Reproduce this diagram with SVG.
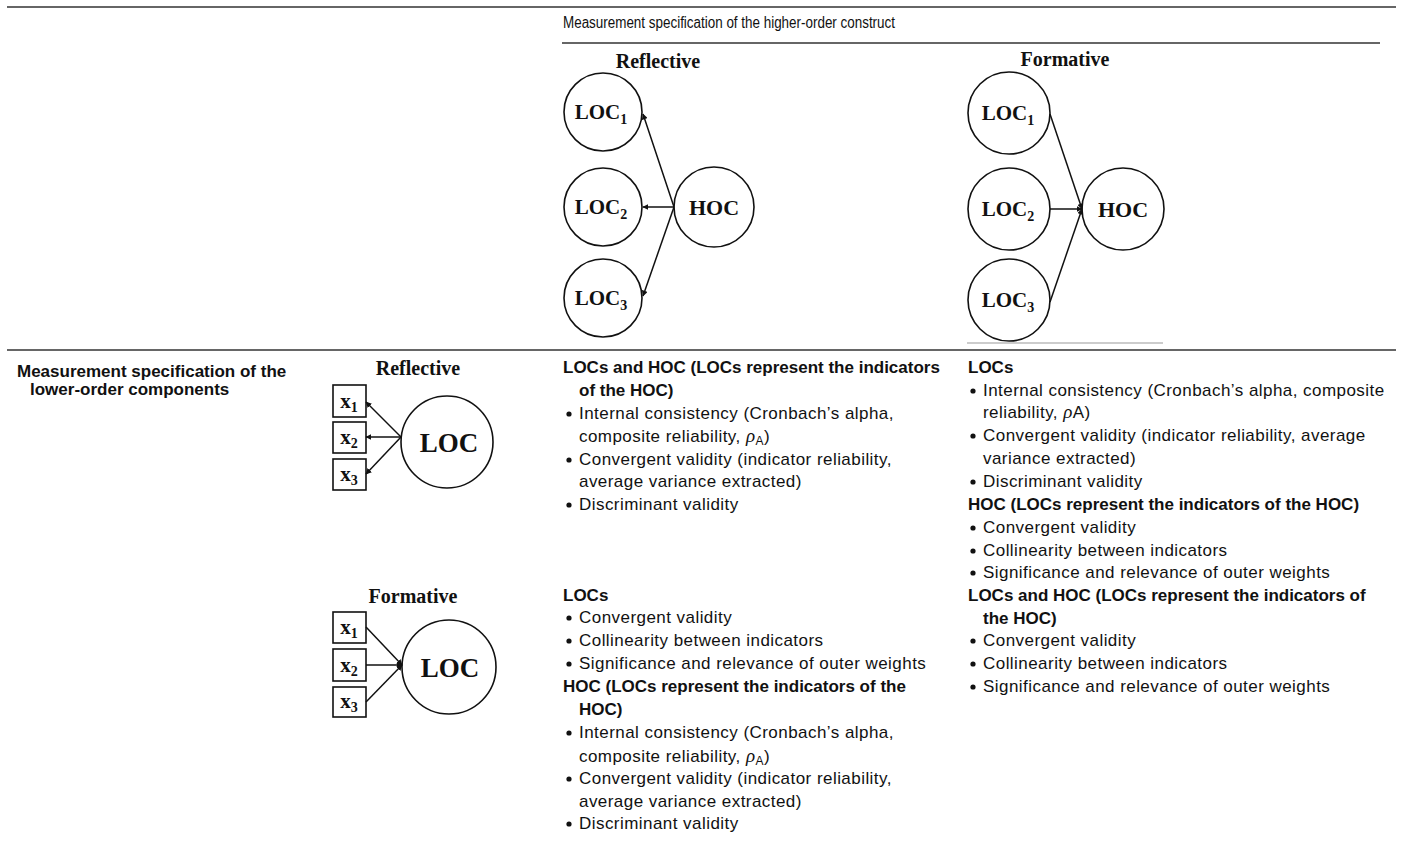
<svg xmlns="http://www.w3.org/2000/svg" width="1404" height="842" viewBox="0 0 1404 842">
<style>
.rule{stroke:#333;stroke-width:1.6}
.c{fill:#fff;stroke:#111;stroke-width:1.6}
.b{fill:#fff;stroke:#111;stroke-width:1.6}
.lbl{font-family:"Liberation Serif","Times New Roman",serif;font-weight:bold;fill:#111}
.t{font-family:"Liberation Sans",Arial,sans-serif;font-size:17px;letter-spacing:0.45px;fill:#111}
.tb{font-family:"Liberation Sans",Arial,sans-serif;font-size:17px;font-weight:bold;fill:#111}
.dot{fill:#111}
.conn line{stroke:#111;stroke-width:1.5}
</style>
<defs>
<marker id="ah" viewBox="0 0 10 10" refX="9" refY="5" markerWidth="4" markerHeight="4" orient="auto-start-reverse" markerUnits="strokeWidth">
<path d="M0,0 L10,5 L0,10 z" fill="#111"/>
</marker>
</defs>
<rect width="1404" height="842" fill="#fff"/>
<line class="rule" x1="7" y1="7" x2="1396" y2="7"/>
<line class="rule" x1="562" y1="43" x2="1380" y2="43"/>
<line class="rule" x1="7" y1="350" x2="1396" y2="350"/>
<line x1="967" y1="343" x2="1163" y2="343" stroke="#999" stroke-width="1"/>
<text x="563" y="28" font-family="Liberation Sans,Arial,sans-serif" font-size="16" fill="#111" textLength="332" lengthAdjust="spacingAndGlyphs">Measurement specification of the higher-order construct</text>

<!-- top reflective -->
<text class="lbl" x="658" y="68" font-size="20" text-anchor="middle">Reflective</text>
<g id="t-ref-loc1"><circle class="c" cx="603" cy="112" r="39"/><text class="lbl" x="601" y="119" font-size="21" text-anchor="middle">LOC<tspan font-size="14" dy="5">1</tspan></text></g>
<g id="t-ref-loc2"><circle class="c" cx="603" cy="207" r="39"/><text class="lbl" x="601" y="214" font-size="21" text-anchor="middle">LOC<tspan font-size="14" dy="5">2</tspan></text></g>
<g id="t-ref-loc3"><circle class="c" cx="603" cy="298" r="39"/><text class="lbl" x="601" y="305" font-size="21" text-anchor="middle">LOC<tspan font-size="14" dy="5">3</tspan></text></g>
<g id="t-ref-hoc"><circle class="c" cx="714" cy="207" r="40"/><text class="lbl" x="714" y="215" font-size="22" text-anchor="middle">HOC</text></g>

<!-- top formative -->
<text class="lbl" x="1065" y="66" font-size="20" text-anchor="middle">Formative</text>
<g id="t-for-loc1"><circle class="c" cx="1009" cy="113" r="41"/><text class="lbl" x="1008" y="120" font-size="21" text-anchor="middle">LOC<tspan font-size="14" dy="5">1</tspan></text></g>
<g id="t-for-loc2"><circle class="c" cx="1009" cy="209" r="41"/><text class="lbl" x="1008" y="216" font-size="21" text-anchor="middle">LOC<tspan font-size="14" dy="5">2</tspan></text></g>
<g id="t-for-loc3"><circle class="c" cx="1009" cy="300" r="41"/><text class="lbl" x="1008" y="307" font-size="21" text-anchor="middle">LOC<tspan font-size="14" dy="5">3</tspan></text></g>
<g id="t-for-hoc"><circle class="c" cx="1123" cy="209" r="41"/><text class="lbl" x="1123" y="217" font-size="22" text-anchor="middle">HOC</text></g>

<!-- lower reflective -->
<text class="lbl" x="418" y="375" font-size="20" text-anchor="middle">Reflective</text>
<g id="l-ref-x1"><rect class="b" x="333" y="385" width="33" height="32"/><text class="lbl" x="349" y="408" font-size="21" text-anchor="middle">x<tspan font-size="14" dy="4">1</tspan></text></g>
<g id="l-ref-x2"><rect class="b" x="333" y="422" width="33" height="31"/><text class="lbl" x="349" y="444" font-size="21" text-anchor="middle">x<tspan font-size="14" dy="4">2</tspan></text></g>
<g id="l-ref-x3"><rect class="b" x="333" y="459" width="33" height="31"/><text class="lbl" x="349" y="481" font-size="21" text-anchor="middle">x<tspan font-size="14" dy="4">3</tspan></text></g>
<g id="l-ref-loc"><circle class="c" cx="447" cy="442" r="46"/><text class="lbl" x="449" y="452" font-size="27" text-anchor="middle">LOC</text></g>

<!-- lower formative -->
<text class="lbl" x="413" y="603" font-size="20" text-anchor="middle">Formative</text>
<g id="l-for-x1"><rect class="b" x="333" y="612" width="33" height="31"/><text class="lbl" x="349" y="634" font-size="21" text-anchor="middle">x<tspan font-size="14" dy="4">1</tspan></text></g>
<g id="l-for-x2"><rect class="b" x="333" y="649" width="33" height="32"/><text class="lbl" x="349" y="672" font-size="21" text-anchor="middle">x<tspan font-size="14" dy="4">2</tspan></text></g>
<g id="l-for-x3"><rect class="b" x="333" y="687" width="33" height="30"/><text class="lbl" x="349" y="708" font-size="21" text-anchor="middle">x<tspan font-size="14" dy="4">3</tspan></text></g>
<g id="l-for-loc"><circle class="c" cx="449" cy="667" r="47"/><text class="lbl" x="450" y="677" font-size="27" text-anchor="middle">LOC</text></g>

<g id="connectors" class="conn">
<line x1="674" y1="207" x2="643" y2="114" marker-end="url(#ah)"/>
<line x1="674" y1="207" x2="643" y2="207" marker-end="url(#ah)"/>
<line x1="674" y1="207" x2="643" y2="296" marker-end="url(#ah)"/>
<line x1="1050" y1="114" x2="1082" y2="209" marker-end="url(#ah)"/>
<line x1="1050" y1="209" x2="1082" y2="209" marker-end="url(#ah)"/>
<line x1="1050" y1="302" x2="1082" y2="209" marker-end="url(#ah)"/>
<line x1="401" y1="437" x2="366" y2="402" marker-end="url(#ah)"/>
<line x1="401" y1="437" x2="366" y2="437" marker-end="url(#ah)"/>
<line x1="401" y1="437" x2="366" y2="474" marker-end="url(#ah)"/>
<line x1="366" y1="627" x2="402" y2="665" marker-end="url(#ah)"/>
<line x1="366" y1="665" x2="402" y2="665" marker-end="url(#ah)"/>
<line x1="366" y1="702" x2="402" y2="665" marker-end="url(#ah)"/>
</g>

<!-- left header -->
<text class="tb" x="17" y="377">Measurement specification of the</text>
<text class="tb" x="30" y="395">lower-order components</text>

<!-- middle column top -->
<g id="mid-top">
<text class="tb" x="563" y="373">LOCs and HOC (LOCs represent the indicators</text>
<text class="tb" x="579" y="396">of the HOC)</text>
<circle class="dot" cx="569" cy="414" r="2.6"/><text class="t" x="579" y="419">Internal consistency (Cronbach’s alpha,</text>
<text class="t" x="579" y="442">composite reliability, <tspan font-family="Liberation Serif,serif" font-style="italic" font-size="19">ρ</tspan><tspan font-size="12" dy="3">A</tspan><tspan dy="-3">)</tspan></text>
<circle class="dot" cx="569" cy="460" r="2.6"/><text class="t" x="579" y="465">Convergent validity (indicator reliability,</text>
<text class="t" x="579" y="487">average variance extracted)</text>
<circle class="dot" cx="569" cy="505" r="2.6"/><text class="t" x="579" y="510">Discriminant validity</text>
</g>

<!-- right column -->
<g id="right-col">
<text class="tb" x="968" y="373">LOCs</text>
<circle class="dot" cx="973" cy="391" r="2.6"/><text class="t" x="983" y="396">Internal consistency (Cronbach’s alpha, composite</text>
<text class="t" x="983" y="418">reliability, <tspan font-family="Liberation Serif,serif" font-style="italic" font-size="19">ρ</tspan>A)</text>
<circle class="dot" cx="973" cy="436" r="2.6"/><text class="t" x="983" y="441">Convergent validity (indicator reliability, average</text>
<text class="t" x="983" y="464">variance extracted)</text>
<circle class="dot" cx="973" cy="482" r="2.6"/><text class="t" x="983" y="487">Discriminant validity</text>
<text class="tb" x="968" y="510">HOC (LOCs represent the indicators of the HOC)</text>
<circle class="dot" cx="973" cy="528" r="2.6"/><text class="t" x="983" y="533">Convergent validity</text>
<circle class="dot" cx="973" cy="551" r="2.6"/><text class="t" x="983" y="556">Collinearity between indicators</text>
<circle class="dot" cx="973" cy="573" r="2.6"/><text class="t" x="983" y="578">Significance and relevance of outer weights</text>
<text class="tb" x="968" y="601">LOCs and HOC (LOCs represent the indicators of</text>
<text class="tb" x="983" y="624">the HOC)</text>
<circle class="dot" cx="973" cy="641" r="2.6"/><text class="t" x="983" y="646">Convergent validity</text>
<circle class="dot" cx="973" cy="664" r="2.6"/><text class="t" x="983" y="669">Collinearity between indicators</text>
<circle class="dot" cx="973" cy="687" r="2.6"/><text class="t" x="983" y="692">Significance and relevance of outer weights</text>
</g>

<!-- middle column bottom -->
<g id="mid-bottom">
<text class="tb" x="563" y="601">LOCs</text>
<circle class="dot" cx="569" cy="618" r="2.6"/><text class="t" x="579" y="623">Convergent validity</text>
<circle class="dot" cx="569" cy="641" r="2.6"/><text class="t" x="579" y="646">Collinearity between indicators</text>
<circle class="dot" cx="569" cy="664" r="2.6"/><text class="t" x="579" y="669">Significance and relevance of outer weights</text>
<text class="tb" x="563" y="692">HOC (LOCs represent the indicators of the</text>
<text class="tb" x="579" y="715">HOC)</text>
<circle class="dot" cx="569" cy="733" r="2.6"/><text class="t" x="579" y="738">Internal consistency (Cronbach’s alpha,</text>
<text class="t" x="579" y="762">composite reliability, <tspan font-family="Liberation Serif,serif" font-style="italic" font-size="19">ρ</tspan><tspan font-size="12" dy="3">A</tspan><tspan dy="-3">)</tspan></text>
<circle class="dot" cx="569" cy="779" r="2.6"/><text class="t" x="579" y="784">Convergent validity (indicator reliability,</text>
<text class="t" x="579" y="807">average variance extracted)</text>
<circle class="dot" cx="569" cy="824" r="2.6"/><text class="t" x="579" y="829">Discriminant validity</text>
</g>
</svg>
